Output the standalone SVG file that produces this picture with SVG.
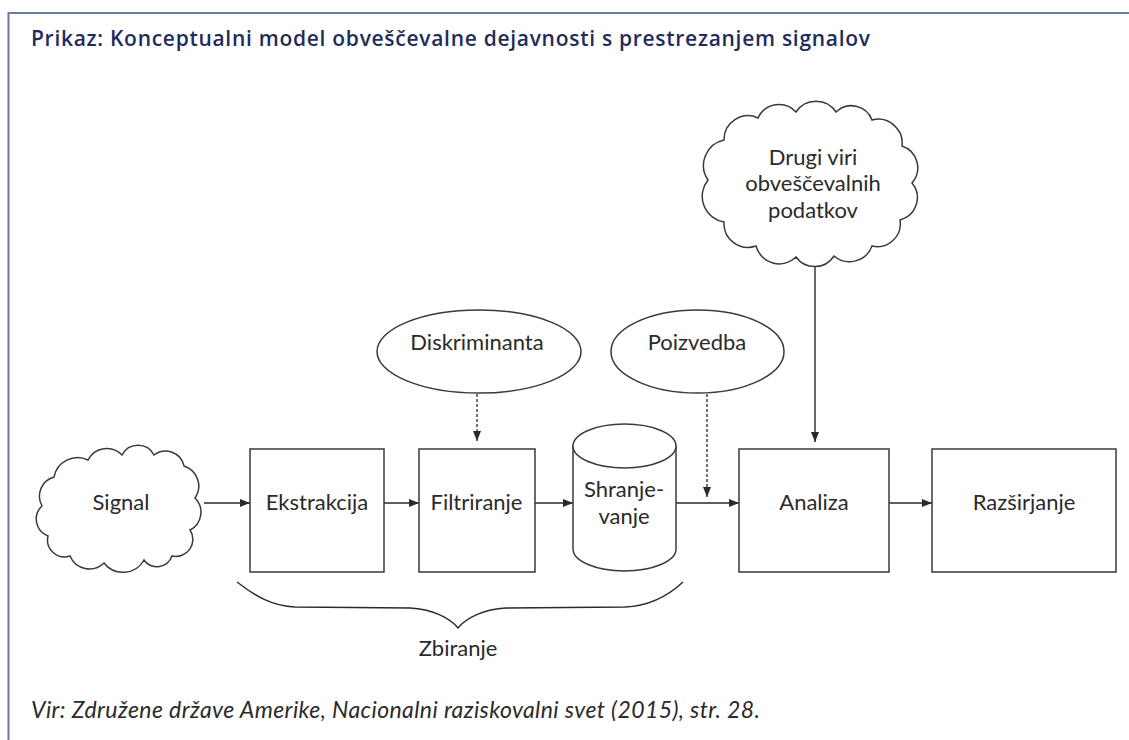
<svg xmlns="http://www.w3.org/2000/svg" width="1129" height="740" viewBox="0 0 1129 740">
<defs>
<style>
.lbl{font-family:Lato,"Open Sans","Liberation Sans",sans-serif;font-size:22px;fill:#2a2a2a;text-anchor:middle}
.shape{fill:#fff;stroke:#3a3a3a;stroke-width:1.5}
.ln{fill:none;stroke:#2a2a2a;stroke-width:1.4}
.dash{fill:none;stroke:#2a2a2a;stroke-width:1.3;stroke-dasharray:3 2}
.title{font-family:"Open Sans",Lato,"Liberation Sans",sans-serif;font-weight:600;font-size:21px;fill:#1f2d5c}
.foot{font-family:Lato,"Liberation Sans",sans-serif;font-style:italic;font-size:23px;fill:#2a2a2a}
</style>
<marker id="ah" viewBox="0 0 10 8" refX="10" refY="4" markerWidth="10" markerHeight="8" markerUnits="userSpaceOnUse" orient="auto">
<path d="M0,0 L10,4 L0,8 z" fill="#2a2a2a"/>
</marker>
</defs>
<rect width="1129" height="740" fill="#fff"/>
<path d="M8.5,740 L8.5,13 L1129,13" fill="none" stroke="#6b7a99" stroke-width="2"/>
<text class="title" x="31" y="46" textLength="839" lengthAdjust="spacing">Prikaz: Konceptualni model obveščevalne dejavnosti s prestrezanjem signalov</text>

<g id="connectors">
<line class="ln" x1="204" y1="503" x2="250" y2="503" marker-end="url(#ah)"/>
<line class="ln" x1="384" y1="503" x2="419" y2="503" marker-end="url(#ah)"/>
<line class="ln" x1="535" y1="503" x2="573" y2="503" marker-end="url(#ah)"/>
<line class="ln" x1="676" y1="503" x2="739" y2="503" marker-end="url(#ah)"/>
<line class="ln" x1="889" y1="503" x2="932" y2="503" marker-end="url(#ah)"/>
<line class="ln" x1="815" y1="266" x2="815" y2="442" marker-end="url(#ah)"/>
<line class="dash" x1="477" y1="394" x2="477" y2="441" marker-end="url(#ah)"/>
<line class="dash" x1="707" y1="394" x2="707" y2="497" marker-end="url(#ah)"/>
</g>

<g id="signal">
<path class="shape" d="M42,506 A20,20 0 0 1 54,477 A24,24 0 0 1 88,460 A21,21 0 0 1 122,455 A18,18 0 0 1 154,455 A19,19 0 0 1 184,466 A21,21 0 0 1 195,498 A20,20 0 0 1 190,530 A17,17 0 0 1 172,556 A16,16 0 0 1 144,560 A24,24 0 0 1 104,563 A21,21 0 0 1 70,556 A17,17 0 0 1 48,536 A18,18 0 0 1 42,506 Z"/>
<text class="lbl" x="121" y="510">Signal</text>
</g>

<g id="ekstrakcija">
<rect class="shape" x="250" y="449" width="134" height="123"/>
<text class="lbl" x="317" y="510">Ekstrakcija</text>
</g>

<g id="filtriranje">
<rect class="shape" x="419" y="449" width="116" height="123"/>
<text class="lbl" x="476.5" y="510">Filtriranje</text>
</g>

<g id="shranjevanje">
<path class="shape" d="M573,446 L573,549 A51.5,22 0 0 0 676,549 L676,446 A51.5,22 0 0 0 573,446 Z"/>
<path class="shape" fill="none" d="M573,446 A51.5,22 0 0 0 676,446"/>
<text class="lbl" x="624" y="497">Shranje-</text>
<text class="lbl" x="624" y="523.5">vanje</text>
</g>

<g id="analiza">
<rect class="shape" x="739" y="449" width="150" height="123"/>
<text class="lbl" x="814" y="510">Analiza</text>
</g>

<g id="razsirjanje">
<rect class="shape" x="932" y="449" width="184" height="123"/>
<text class="lbl" x="1024" y="510">Razširjanje</text>
</g>

<g id="diskriminanta">
<ellipse class="shape" cx="479" cy="351.5" rx="102" ry="41.5"/>
<text class="lbl" x="477" y="350">Diskriminanta</text>
</g>

<g id="poizvedba">
<ellipse class="shape" cx="697.5" cy="351.5" rx="86.5" ry="41.5"/>
<text class="lbl" x="697" y="350">Poizvedba</text>
</g>

<g id="drugi-viri">
<path class="shape" d="M708,180 A26,26 0 0 1 724,140 A24,24 0 0 1 758,118 A23,23 0 0 1 796,112 A24,24 0 0 1 836,112 A22,22 0 0 1 872,120 A24,24 0 0 1 902,146 A23,23 0 0 1 912,183 A23,23 0 0 1 900,220 A23,23 0 0 1 872,246 A24,24 0 0 1 834,256 A23,23 0 0 1 796,257 A24,24 0 0 1 756,246 A24,24 0 0 1 724,222 A26,26 0 0 1 708,180 Z"/>
<text class="lbl" x="813" y="164.5">Drugi viri</text>
<text class="lbl" x="813" y="191">obveščevalnih</text>
<text class="lbl" x="813" y="217.5">podatkov</text>
</g>

<g id="zbiranje">
<path class="ln" d="M237,582 C255,596 272,606 295,607 L410,608 C432,609 450,618 458,628 C466,618 484,609 506,608 L625,607 C650,606 668,596 683,582"/>
<text class="lbl" x="458" y="656">Zbiranje</text>
</g>

<text class="foot" x="31" y="718" textLength="729" lengthAdjust="spacing">Vir: Združene države Amerike, Nacionalni raziskovalni svet (2015), str. 28.</text>
</svg>
